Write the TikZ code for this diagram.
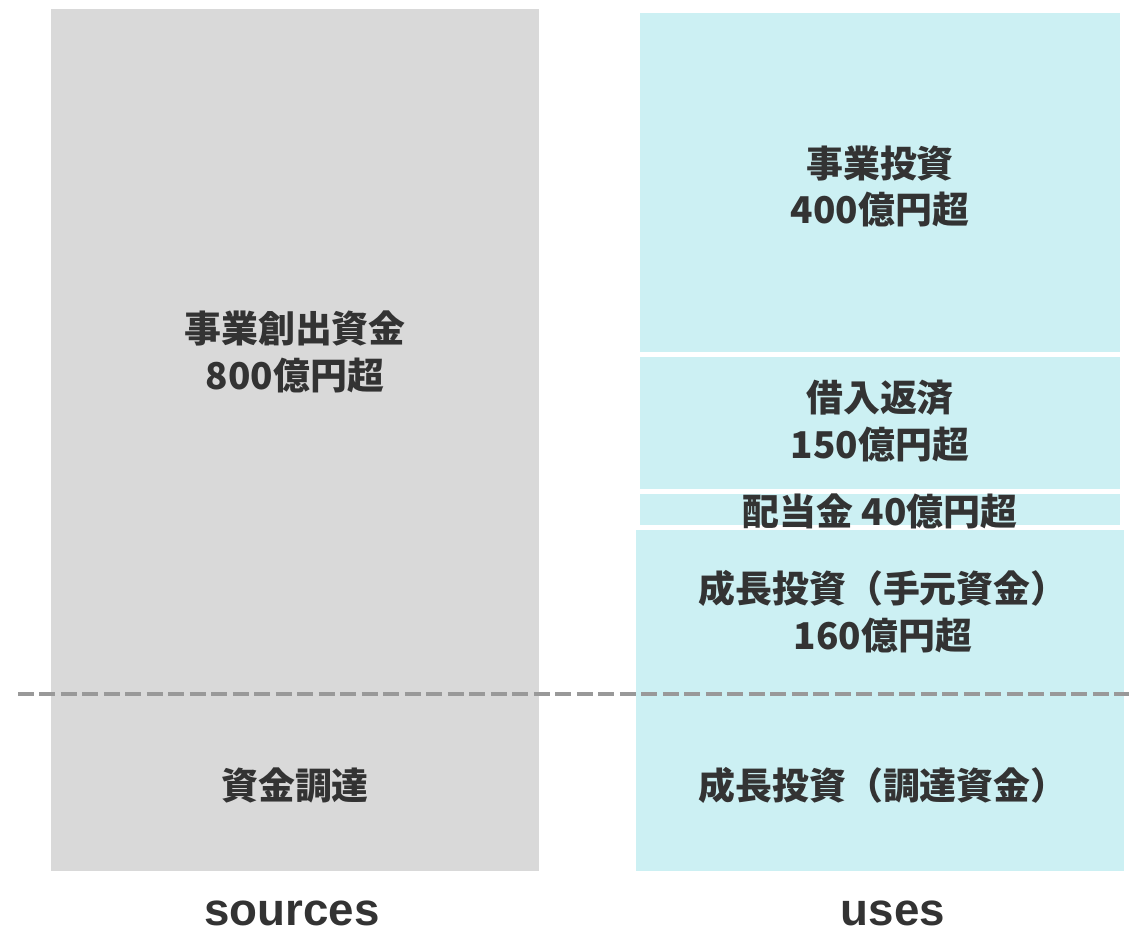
\documentclass[tikz,border=0pt]{standalone}
\usepackage{fontspec}
\setmainfont{Noto Sans CJK JP}
\newfontfamily\latinfont{Liberation Sans}
\definecolor{srcgray}{RGB}{217,217,217}
\definecolor{usecyan}{RGB}{204,240,243}
\definecolor{ink}{RGB}{51,51,51}
\definecolor{dashgray}{RGB}{153,153,153}
\usetikzlibrary{positioning}

\begin{document}
\begin{tikzpicture}[x=0.02cm,y=-0.02cm,
      blk/.style={inner sep=0pt,outer sep=0pt},
      lbl/.style={font=\fontsize{21}{26.7}\selectfont\bfseries,text=ink,align=center,inner sep=0pt},
      foot/.style={font=\fontsize{26}{30}\selectfont\latinfont\bfseries,text=ink,inner sep=0pt}]
      \useasboundingbox (0,0) rectangle (1129,932);
      % sources column
      \node[blk,fill=srcgray,minimum width=9.76cm,minimum height=17.24cm] (src) at (295,440) {};
      \node[lbl] (srclbl) at (295,351.5) {事業創出資金\\800億円超};
      \node[lbl] (fund) at (295,785) {資金調達};
      % uses column
      \node[blk,fill=usecyan,minimum width=9.6cm,minimum height=6.78cm] (inv) at (880,182.5) {};
      \node[blk,fill=usecyan,minimum width=9.6cm,minimum height=2.64cm] (debt) at (880,423) {};
      \node[blk,fill=usecyan,minimum width=9.6cm,minimum height=0.62cm] (div) at (880,509.5) {};
      \node[blk,fill=usecyan,minimum width=9.76cm,minimum height=6.82cm] (grow) at (880,700.5) {};
      \node[lbl] (invlbl) at (880,186.5) {事業投資\\400億円超};
      \node[lbl] (debtlbl) at (880,421) {借入返済\\150億円超};
      \node[lbl] (divlbl) at (880,511) {配当金 40億円超};
      \node[lbl] (growlbl) at (883,612) {成長投資（手元資金）\\160億円超};
      \node[lbl] (raise) at (883,785) {成長投資（調達資金）};
      % split line
      \coordinate (cutl) at (18,694);
      \coordinate (cutr) at (1129,694);
      \draw[dashgray,line width=0.08cm,dash pattern=on 0.32cm off 0.11cm] (cutl) -- (cutr);
      % footers
      \node[foot] (sources) at (292,913) {sources};
      \node[foot] (uses) at (893,913) {uses};
\end{tikzpicture}
\end{document}
